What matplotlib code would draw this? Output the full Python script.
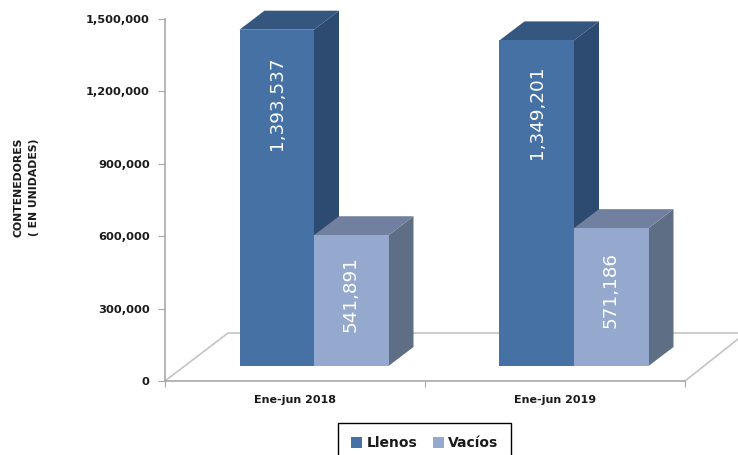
import matplotlib.pyplot as plt
from matplotlib.patches import Patch, Polygon

# Datos
categorias = ["Ene-jun 2018", "Ene-jun 2019"]
llenos = [1393537, 1349201]
vacios = [541891, 571186]
ticks_y = [0, 300000, 600000, 900000, 1200000, 1500000]

W, H = 738, 455
fig = plt.figure(figsize=(W / 100, H / 100), dpi=100)
# eje: x 165-685 px, y 19-381 px
ax = fig.add_axes([165 / W, 1 - 381 / H, 520 / W, 362 / H])
ax.set_xlim(0, 2)
ax.set_ylim(0, 1500000)

# pixeles a unidades de datos
px = 2 / 520
py = 1500000 / 362

# Piso en perspectiva
gris = "#c4c4c4"
ax.plot([0, 63 * px, 573 * px], [0, 48 * py, 48 * py], color=gris, lw=1.2, clip_on=False, zorder=1)
ax.plot([2, 2 + 53 * px], [0, 42 * py], color=gris, lw=1.2, clip_on=False, zorder=1)


def barra(x, valor, color_frente, color_lado, color_tope):
    ancho = 74.5 * px
    base = 15 * py
    dx = 25 * px
    dy = 19 * py
    top = base + valor
    ax.add_patch(Polygon([(x + ancho, base), (x + ancho + dx, base + dy), (x + ancho + dx, top + dy), (x + ancho, top)],
                         fc=color_lado, ec="none", clip_on=False, zorder=3))
    ax.add_patch(Polygon([(x, top), (x + dx, top + dy), (x + ancho + dx, top + dy), (x + ancho, top)],
                         fc=color_tope, ec="none", clip_on=False, zorder=3))
    ax.add_patch(Polygon([(x, base), (x + ancho, base), (x + ancho, top), (x, top)],
                         fc=color_frente, ec="none", clip_on=False, zorder=3))


for i in range(len(categorias)):
    x0 = i + 74.5 * px
    x1 = x0 + 74.5 * px
    barra(x0, llenos[i], "#4571a5", "#2d4a70", "#34567f")
    barra(x1, vacios[i], "#95a9cf", "#5e6e85", "#72809f")
    ax.text(x0 + 38 * px, 15 * py + llenos[i] * 0.78, f"{llenos[i]:,}", rotation=90, color="white",
            fontsize=13.2, ha="center", va="center", zorder=4)
    ax.text(x1 + 37 * px, 15 * py + vacios[i] * 0.55, f"{vacios[i]:,}", rotation=90, color="white",
            fontsize=13.2, ha="center", va="center", zorder=4)

for s in ["top", "right"]:
    ax.spines[s].set_visible(False)
ax.spines["left"].set_color("#a8a8a8")
ax.spines["bottom"].set_color("#a8a8a8")
ax.spines["left"].set_linewidth(1.2)
ax.spines["bottom"].set_linewidth(1.2)

ax.set_yticks(ticks_y)
ax.set_yticklabels([f"{v:,}" for v in ticks_y], fontsize=8.2, fontweight="bold", color="#1a1a1a")
ax.set_xticks([0, 1, 2])
ax.set_xticklabels([])
ax.set_xticks([0.5, 1.5], minor=True)
ax.set_xticklabels(categorias, minor=True, fontsize=8, fontweight="bold", color="#1a1a1a")
ax.tick_params(axis="x", which="minor", length=0, pad=10)
ax.tick_params(axis="x", which="major", length=4, color="#a8a8a8", direction="out")
ax.tick_params(axis="y", length=5, color="#a8a8a8", pad=6)

fig.text(26 / W, 1 - 187 / H, "CONTENEDORES\n( EN UNIDADES)", rotation=90, ha="center", va="center",
         fontsize=7.8, fontweight="bold", color="#1a1a1a", linespacing=1.7)

handles = [Patch(fc="#4571a5", label="Llenos"), Patch(fc="#95a9cf", label="Vacíos")]
fig.legend(handles=handles, loc="upper left", bbox_to_anchor=(338 / W, 1 - 423 / H), ncol=2, frameon=True,
           fancybox=False, edgecolor="black", framealpha=1, borderaxespad=0, borderpad=0.95, handlelength=0.8,
           handleheight=0.8, handletextpad=0.3, columnspacing=1.1, prop={"size": 10, "weight": "bold"},
           labelcolor="#1a1a1a")

plt.savefig("out.png", dpi=100)
